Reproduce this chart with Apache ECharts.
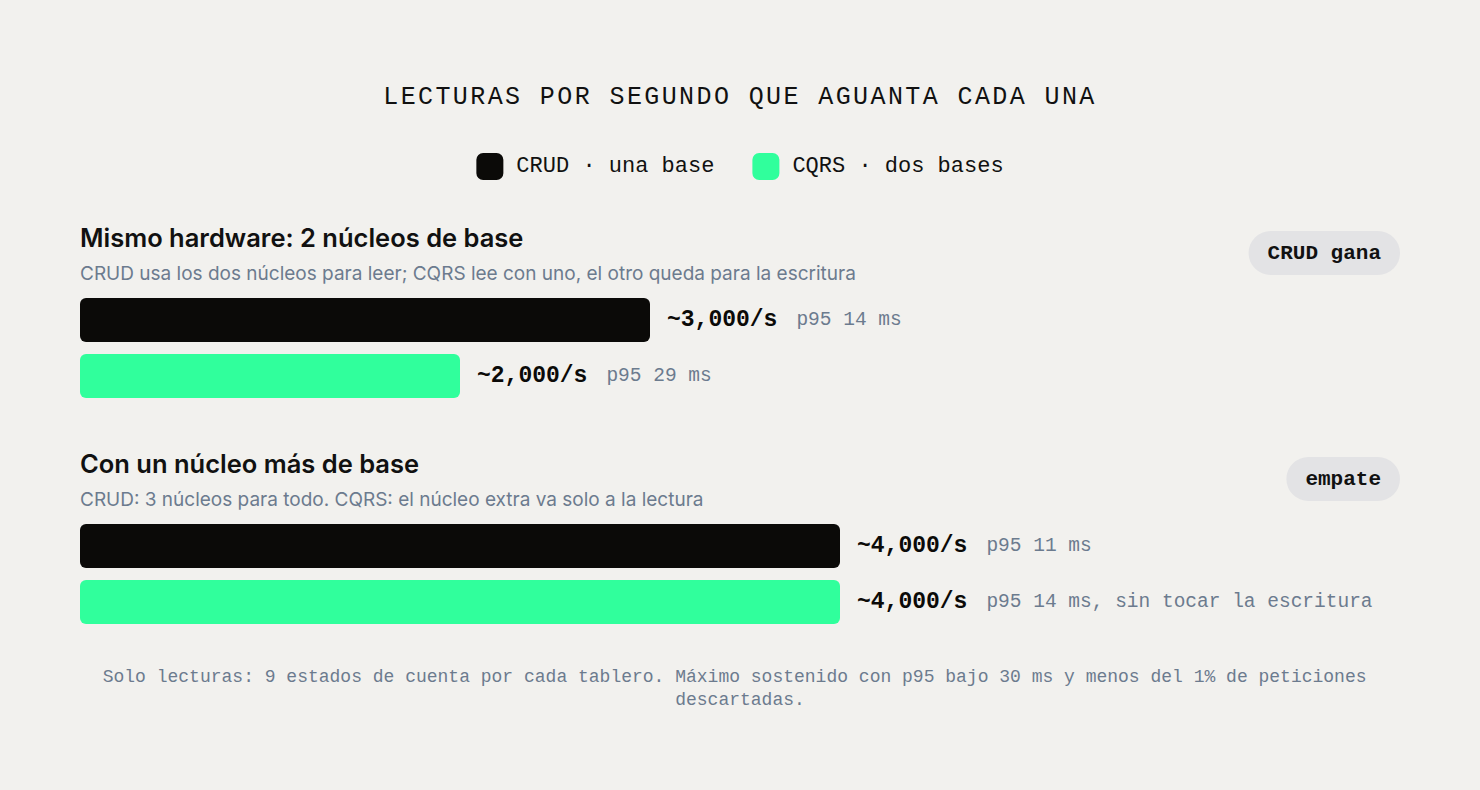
<!DOCTYPE html>
<html>
<head>
<meta charset="utf-8">
<script src="https://cdn.jsdelivr.net/npm/echarts@6/dist/echarts.min.js"></script>
<style>
  html, body { margin: 0; padding: 0; background: #f2f1ee; }
  #chart { width: 1480px; height: 790px; }
</style>
</head>
<body>
<div id="chart"></div>
<script>
const chartTitle = 'LECTURAS POR SEGUNDO QUE AGUANTA CADA UNA';
const seriesNames = ['CRUD · una base', 'CQRS · dos bases'];
const rows = ['CRUD', 'CQRS'];
const panelTitles = ['Mismo hardware: 2 núcleos de base', 'Con un núcleo más de base'];
const panelNotes = [
  'CRUD usa los dos núcleos para leer; CQRS lee con uno, el otro queda para la escritura',
  'CRUD: 3 núcleos para todo. CQRS: el núcleo extra va solo a la lectura'
];
const verdicts = ['CRUD gana', 'empate'];
const crudValues = [3000, 4000];
const cqrsValues = [2000, 4000];
const crudP95 = ['p95 14 ms', 'p95 11 ms'];
const cqrsP95 = ['p95 29 ms', 'p95 14 ms, sin tocar la escritura'];
const footnote = 'Solo lecturas: 9 estados de cuenta por cada tablero. Máximo sostenido con p95 bajo 30 ms y menos del 1% de peticiones descartadas.';

const MONO = '"Liberation Mono", "DejaVu Sans Mono", monospace';
const SANS = 'Inter, "Noto Sans", sans-serif';
const INK = '#0b0a08';
const GREEN = '#30ff9c';
const MUTED = '#6c7b8e';

const panelTop = [292, 518];

function fmt(v) {
  return '~' + v.toLocaleString('en-US') + '/s';
}

function barSeries(panel, which) {
  const isCrud = which === 0;
  const value = isCrud ? crudValues[panel] : cqrsValues[panel];
  const p95 = isCrud ? crudP95[panel] : cqrsP95[panel];
  return {
    name: seriesNames[which],
    type: 'bar',
    xAxisIndex: panel,
    yAxisIndex: panel,
    barWidth: 44,
    barGap: '-100%',
    silent: true,
    itemStyle: {color: isCrud ? INK : GREEN, borderRadius: 6},
    data: isCrud ? [value, '-'] : ['-', value],
    label: {
      show: true,
      position: 'right',
      distance: 17,
      formatter: () => `{v|${fmt(value)}}{p|${p95}}`,
      rich: {
        v: {fontFamily: MONO, fontWeight: 'bold', fontSize: 23, color: INK},
        p: {fontFamily: MONO, fontSize: 19.5, color: MUTED, padding: [0, 0, 0, 19]}
      }
    }
  };
}

const chart = echarts.init(document.getElementById('chart'), null, {renderer: 'svg'});

const titles = [{
  text: chartTitle,
  left: 'center',
  top: 80,
  textStyle: {fontFamily: MONO, fontSize: 25, fontWeight: 'normal', color: '#111'}
}];
panelTitles.forEach((t, i) => {
  titles.push({
    text: t,
    subtext: panelNotes[i],
    left: 75,
    top: panelTop[i] - 73,
    itemGap: 14,
    textStyle: {fontFamily: SANS, fontSize: 25.5, fontWeight: 600, color: '#111'},
    subtextStyle: {fontFamily: SANS, fontSize: 19, color: MUTED}
  });
});

const graphics = verdicts.map((v, i) => ({
  type: 'text',
  right: 80,
  top: panelTop[i] - 61,
  style: {
    text: v,
    font: `bold 21px ${MONO}`,
    fill: '#111',
    backgroundColor: '#e3e3e5',
    padding: [10, 19],
    lineHeight: 24,
    borderRadius: 22
  }
}));
graphics.push({
  type: 'text',
  x: 740,
  y: 665,
  style: {
    text: footnote,
    font: `18px ${MONO}`,
    fill: MUTED,
    width: 1290,
    overflow: 'break',
    lineHeight: 23,
    align: 'center'
  }
});

chart.setOption({
  backgroundColor: '#f2f1ee',
  animation: false,
  title: titles,
  legend: {
    data: seriesNames,
    top: 148,
    left: 'center',
    icon: 'roundRect',
    itemWidth: 27,
    itemHeight: 27,
    itemGap: 38,
    selectedMode: false,
    textStyle: {fontFamily: MONO, fontSize: 22, color: '#111', padding: [0, 0, 0, 8]}
  },
  grid: panelTop.map(t => ({left: 80, top: t, width: 1330, height: 112})),
  xAxis: panelTop.map((t, i) => ({
    type: 'value', gridIndex: i, min: 0, max: 7000, show: false
  })),
  yAxis: panelTop.map((t, i) => ({
    type: 'category', gridIndex: i, data: rows, inverse: true, show: false
  })),
  graphic: graphics,
  series: [barSeries(0, 0), barSeries(0, 1), barSeries(1, 0), barSeries(1, 1)]
});

// spaced-out caps for the main heading (svg renderer keeps it as a <text>)
function spaceTitle() {
  document.querySelectorAll('#chart svg text').forEach(el => {
    if (el.textContent.trim() === chartTitle) {
      el.setAttribute('letter-spacing', '2.4');
      el.style.letterSpacing = '2.4px';
    }
  });
}
chart.on('finished', spaceTitle);
spaceTitle();
[0, 50, 200, 500].forEach(t => setTimeout(spaceTitle, t));
</script>
</body>
</html>
